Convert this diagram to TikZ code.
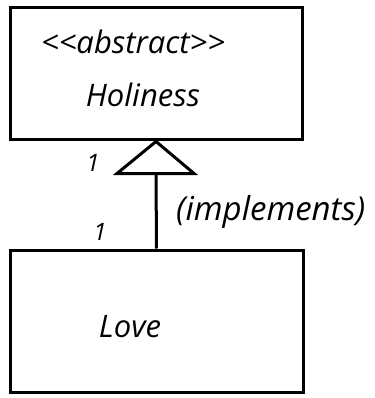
\documentclass[tikz,border=0pt]{standalone}
\usepackage{fontspec}
\setmainfont{Open Sans}
\usepackage{tikz}
\usetikzlibrary{positioning}
\tikzstyle{classbox} = [draw,line width=3pt,inner sep=0pt]
\tikzstyle{txt} = [inner sep=0pt,font=\fontsize{31}{36}\selectfont\itshape]
\tikzstyle{mult} = [inner sep=0pt,font=\fontsize{24}{28}\selectfont\itshape]

\begin{document}
\begin{tikzpicture}[x=1pt,y=-1pt]
    \useasboundingbox (0,0) rectangle (374,398);
    \node[classbox,minimum width=292pt,minimum height=132pt] (holiness) at (156,74) {};
    \node[classbox,minimum width=293pt,minimum height=142pt] (love) at (156.5,321) {};
    \node[txt] (stereo) at (133,42) {<{}<abstract>{}>};
    \node[txt] (hname) at (143,95) {Holiness};
    \node[txt] (lname) at (130,327) {Love};
    % realization triangle
    \draw[line width=3pt,line join=miter] (holiness.south) -- ++(38,32) -- ++(-77,0) -- cycle;
    \coordinate (tri) at ([shift={(0,32)}]holiness.south);
    \draw[line width=3pt] (love.north) -- (tri);
    \node[txt,font=\fontsize{33}{38}\selectfont\itshape,anchor=west] (impl) at (176,212) {(implements)};
    \node[mult] (m1) at (93,163) {1};
    \node[mult] (m2) at (100,232) {1};
\end{tikzpicture}
\end{document}
